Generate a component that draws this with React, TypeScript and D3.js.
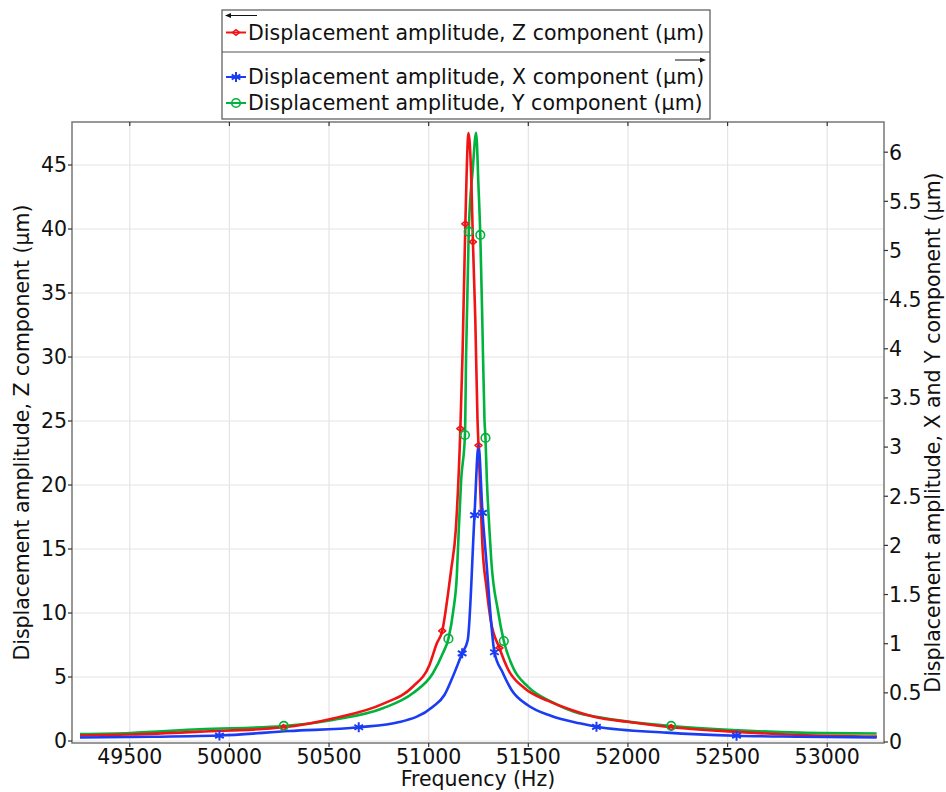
import React from 'react';
import * as d3 from 'd3';

// ---------- data ----------
const xTicks = [49500, 50000, 50500, 51000, 51500, 52000, 52500, 53000];
const leftTicks = [0, 5, 10, 15, 20, 25, 30, 35, 40, 45];
const rightTicks = [0, 0.5, 1, 1.5, 2, 2.5, 3, 3.5, 4, 4.5, 5, 5.5, 6];

// Z component (left axis)
const zFreq = [49250, 49500, 49850, 50271, 50520, 50770, 50920, 51004, 51040, 51068, 51097, 51113, 51136, 51159, 51170, 51184, 51200, 51215, 51222, 51234, 51245, 51250, 51260, 51269, 51290, 51311, 51355, 51400, 51480, 51600, 51725, 51840, 52000, 52217, 52530, 52860, 53250];
const zAmp = [0.43, 0.51, 0.73, 1.07, 1.76, 2.9, 4.24, 5.94, 7.6, 8.6, 11.5, 13.4, 16.5, 24.4, 30.3, 40.4, 47.5, 43.3, 39.0, 32.9, 25.1, 23.1, 19.1, 15.5, 12.0, 9.45, 7.27, 5.55, 4.14, 3.13, 2.38, 1.85, 1.5, 1.07, 0.73, 0.47, 0.35];
const zMarkFreq = [50271, 51068, 51159, 51184, 51222, 51250, 51355, 52217];
const zMarkAmp = [1.07, 8.6, 24.4, 40.4, 39.0, 23.1, 7.27, 1.07];

// X component (right axis)
const xFreqs = [49250, 49500, 49950, 50301, 50649, 50853, 51021, 51079, 51121, 51168, 51196, 51230, 51250, 51270, 51289, 51330, 51370, 51416, 51496, 51616, 51757, 51842, 52194, 52545, 52861, 53248];
const xAmp = [0.046, 0.051, 0.066, 0.112, 0.15, 0.203, 0.359, 0.478, 0.664, 0.902, 1.038, 2.309, 3.021, 2.33, 1.851, 0.913, 0.712, 0.529, 0.376, 0.264, 0.19, 0.155, 0.095, 0.064, 0.054, 0.046];
const xMarkFreq = [49950, 50649, 51168, 51230, 51270, 51330, 51842, 52545];
const xMarkAmp = [0.066, 0.15, 0.902, 2.309, 2.33, 0.913, 0.155, 0.064];

// Y component (right axis)
const yFreq = [49250, 49500, 49849, 50273, 50519, 50770, 50920, 51021, 51071, 51099, 51124, 51141, 51151, 51163, 51182, 51188, 51201, 51221, 51238, 51250, 51259, 51269, 51280, 51285, 51292, 51305, 51314, 51347, 51377, 51422, 51498, 51615, 51757, 51841, 52000, 52217, 52527, 52861, 53248];
const yAmp = [0.081, 0.092, 0.129, 0.163, 0.224, 0.343, 0.495, 0.699, 0.902, 1.051, 1.343, 1.682, 2.157, 2.665, 3.123, 3.957, 5.191, 5.819, 6.198, 5.649, 5.158, 4.293, 3.276, 3.093, 2.665, 2.157, 1.851, 1.343, 1.027, 0.763, 0.563, 0.41, 0.29, 0.257, 0.207, 0.163, 0.122, 0.095, 0.086];
const yMarkFreq = [50273, 51099, 51182, 51201, 51259, 51285, 51377, 52217];
const yMarkAmp = [0.163, 1.051, 3.123, 5.191, 5.158, 3.093, 1.027, 0.163];

const legendLabels = [
  'Displacement amplitude, Z component (µm)',
  'Displacement amplitude, X component (µm)',
  'Displacement amplitude, Y component (µm)',
];
const xTitle = 'Frequency (Hz)';
const leftTitle = 'Displacement amplitude, Z component (µm)';
const rightTitle = 'Displacement amplitude, X and Y component (µm)';

// ---------- layout ----------
const W = 946, H = 792;
const PL = 72, PR = 884, PT = 122, PB = 743;
const RED = '#f01414', GREEN = '#00b33c', BLUE = '#1a3cf5';
const FONT = '"DejaVu Sans", Verdana, sans-serif';
const FS = 20.5;

const x = d3.scaleLinear().domain([49210, 53285]).range([PL, PR]);
const yL = d3.scaleLinear().domain([-0.156, 48.36]).range([PB, PT]);
const yR = d3.scaleLinear().domain([-0.0102, 6.307]).range([PB, PT]);

const zip = (a: number[], b: number[]) => a.map((v, i) => [v, b[i]] as [number, number]);

function Diamond({ cx, cy, color }: any) {
  const r = 3.5;
  return <path d={`M${cx - r},${cy}L${cx},${cy - r * 0.8}L${cx + r},${cy}L${cx},${cy + r * 0.8}Z`} fill="none" stroke={color} strokeWidth={1.6} />;
}
function Circ({ cx, cy, color }: any) {
  return <circle cx={cx} cy={cy} r={4.3} fill="none" stroke={color} strokeWidth={1.6} />;
}
function Star({ cx, cy, color }: any) {
  const r = 5;
  const a = Math.PI / 6;
  const d = `M${cx},${cy - r}L${cx},${cy + r}` +
    `M${cx - r * Math.cos(a)},${cy - r * Math.sin(a)}L${cx + r * Math.cos(a)},${cy + r * Math.sin(a)}` +
    `M${cx - r * Math.cos(a)},${cy + r * Math.sin(a)}L${cx + r * Math.cos(a)},${cy - r * Math.sin(a)}`;
  return <path d={d} stroke={color} strokeWidth={2} fill="none" />;
}

export default function App() {
  const lineL = d3.line<[number, number]>().x(d => x(d[0])).y(d => yL(d[1])).curve(d3.curveMonotoneX);
  const lineR = d3.line<[number, number]>().x(d => x(d[0])).y(d => yR(d[1])).curve(d3.curveMonotoneX);

  return (
    <svg width={W} height={H} style={{ position: 'absolute', left: 0, top: 0, background: '#fff' }} fontFamily={FONT}>
      <defs>
        <clipPath id="plotclip">
          <rect x={PL} y={PT} width={PR - PL} height={PB - PT} />
        </clipPath>
      </defs>
      <rect x={0} y={0} width={W} height={H} fill="#fff" />
      {/* grid */}
      <g stroke="#e4e4e4" strokeWidth={1.2}>
        {xTicks.map(t => <line key={'gx' + t} x1={x(t)} x2={x(t)} y1={PT} y2={PB} />)}
        {leftTicks.map(t => <line key={'gy' + t} x1={PL} x2={PR} y1={yL(t)} y2={yL(t)} />)}
      </g>
      {/* curves */}
      <g clipPath="url(#plotclip)" fill="none" strokeWidth={2.6} strokeLinejoin="round">
        <path d={lineR(zip(yFreq, yAmp)) || ''} stroke={GREEN} />
        <path d={lineL(zip(zFreq, zAmp)) || ''} stroke={RED} />
        <path d={lineR(zip(xFreqs, xAmp)) || ''} stroke={BLUE} />
        {zMarkFreq.map((f, i) => <Diamond key={'zm' + i} cx={x(f)} cy={yL(zMarkAmp[i])} color={RED} />)}
        {yMarkFreq.map((f, i) => <Circ key={'ym' + i} cx={x(f)} cy={yR(yMarkAmp[i])} color={GREEN} />)}
        {xMarkFreq.map((f, i) => <Star key={'xm' + i} cx={x(f)} cy={yR(xMarkAmp[i])} color={BLUE} />)}
      </g>
      {/* frame */}
      <rect x={PL} y={PT} width={PR - PL} height={PB - PT} fill="none" stroke="#777" strokeWidth={1.5} />
      {/* ticks */}
      <g stroke="#333" strokeWidth={1.2}>
        {xTicks.map(t => <line key={'tb' + t} x1={x(t)} x2={x(t)} y1={PB} y2={PB + 4} />)}
        {xTicks.map(t => <line key={'tt' + t} x1={x(t)} x2={x(t)} y1={PT} y2={PT + 4} />)}
        {leftTicks.map(t => <line key={'tl' + t} x1={PL - 4} x2={PL} y1={yL(t)} y2={yL(t)} />)}
        {rightTicks.map(t => <line key={'tr' + t} x1={PR} x2={PR + 4} y1={yR(t)} y2={yR(t)} />)}
      </g>
      {/* tick labels */}
      <g fontSize={FS} fill="#111">
        {xTicks.map(t => <text key={'lx' + t} x={x(t)} y={764} textAnchor="middle">{t}</text>)}
        {leftTicks.map(t => <text key={'ll' + t} x={PL - 5} y={yL(t)} dy="0.36em" textAnchor="end">{t}</text>)}
        {rightTicks.map(t => <text key={'lr' + t} x={PR + 5} y={yR(t)} dy="0.36em" textAnchor="start">{t}</text>)}
      </g>
      {/* axis titles */}
      <g fontSize={FS} fill="#111">
        <text x={(PL + PR) / 2} y={786} textAnchor="middle">{xTitle}</text>
        <text transform={`translate(29,${(PT + PB) / 2}) rotate(-90)`} textAnchor="middle">{leftTitle}</text>
        <text transform={`translate(940,${(PT + PB) / 2}) rotate(-90)`} textAnchor="middle">{rightTitle}</text>
      </g>
      {/* legend */}
      <g>
        <rect x={222} y={10} width={488} height={109} fill="#fff" stroke="#555" strokeWidth={1.2} />
        <line x1={222} x2={710} y1={52} y2={52} stroke="#555" strokeWidth={1.2} />
        <line x1={229} x2={257} y1={15.5} y2={15.5} stroke="#111" strokeWidth={1} />
        <path d="M225,15.5L231,13L231,18Z" fill="#111" />
        <line x1={675} x2={702} y1={60} y2={60} stroke="#111" strokeWidth={1} />
        <path d="M706,60L700,57.5L700,62.5Z" fill="#111" />
        {[{ c: RED, y: 32.5, k: 'z' }, { c: BLUE, y: 77, k: 'x' }, { c: GREEN, y: 103, k: 'y' }].map((e) => (
          <g key={e.k}>
            <line x1={226} x2={246} y1={e.y} y2={e.y} stroke={e.c} strokeWidth={2} />
            {e.k === 'z' && <Diamond cx={236} cy={e.y} color={e.c} />}
            {e.k === 'x' && <Star cx={236} cy={e.y} color={e.c} />}
            {e.k === 'y' && <Circ cx={236} cy={e.y} color={e.c} />}
          </g>
        ))}
        <g fontSize={FS} fill="#111">
          <text x={248} y={40}>{legendLabels[0]}</text>
          <text x={248} y={84}>{legendLabels[1]}</text>
          <text x={248} y={110}>{legendLabels[2]}</text>
        </g>
      </g>
    </svg>
  );
}
